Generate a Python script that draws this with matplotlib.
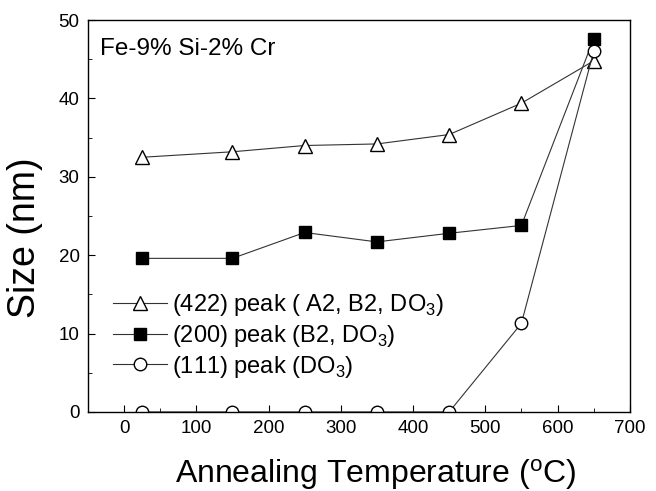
import matplotlib
matplotlib.use("Agg")
import matplotlib.pyplot as plt
from matplotlib.ticker import MultipleLocator

plt.rcParams['font.family'] = ['Liberation Sans', 'DejaVu Sans']
plt.rcParams['mathtext.fontset'] = 'custom'
plt.rcParams['mathtext.rm'] = 'Liberation Sans'

temps = [25, 150, 250, 350, 450, 550, 650]
peak_422 = [32.5, 33.2, 34.0, 34.2, 35.4, 39.4, 44.8]
peak_200 = [19.6, 19.6, 22.9, 21.7, 22.8, 23.8, 47.6]
peak_111 = [0, 0, 0, 0, 0, 11.3, 46.0]

fig = plt.figure(figsize=(6.56, 4.91), dpi=100)
ax = fig.add_axes([0.134, 0.161, 0.826, 0.798])

ax.plot(temps, peak_422, color='#333333', lw=0.8, marker='^', ms=10,
        mfc='white', mec='black', mew=1.0, label=r'(422) peak ( A2, B2, DO$_3$)')
ax.plot(temps, peak_200, color='#333333', lw=0.8, marker='s', ms=8.5,
        mfc='black', mec='black', label=r'(200) peak (B2, DO$_3$)')
ax.plot(temps, peak_111, color='#333333', lw=0.8, marker='o', ms=9,
        mfc='white', mec='black', mew=1.0, label=r'(111) peak (DO$_3$)')

ax.set_xlim(-50, 700)
ax.set_ylim(0, 50)
ax.xaxis.set_major_locator(MultipleLocator(100))
ax.xaxis.set_minor_locator(MultipleLocator(50))
ax.yaxis.set_major_locator(MultipleLocator(10))
ax.yaxis.set_minor_locator(MultipleLocator(5))
ax.tick_params(direction='in', which='both', labelsize=13.5, top=False, right=False)
ax.tick_params(which='major', length=5, pad=6)
ax.tick_params(which='minor', length=3)
for s in ax.spines.values():
    s.set_linewidth(1.0)

ax.set_xlabel(r'Annealing Temperature ($\mathregular{^o}$C)', fontsize=23)
ax.set_ylabel('Size (nm)', fontsize=27)
ax.xaxis.set_label_coords(0.531, -0.115)
ax.yaxis.set_label_coords(-0.083, 0.446)

ax.text(0.022, 0.955, 'Fe-9% Si-2% Cr', transform=ax.transAxes, fontsize=17.5,
        va='top', ha='left')

ax.legend(loc='upper left', bbox_to_anchor=(0.028, 0.33), frameon=False,
          fontsize=17, handlelength=2.3, handletextpad=0.2, labelspacing=0.2,
          borderaxespad=0)

fig.savefig('out.png', dpi=100)
